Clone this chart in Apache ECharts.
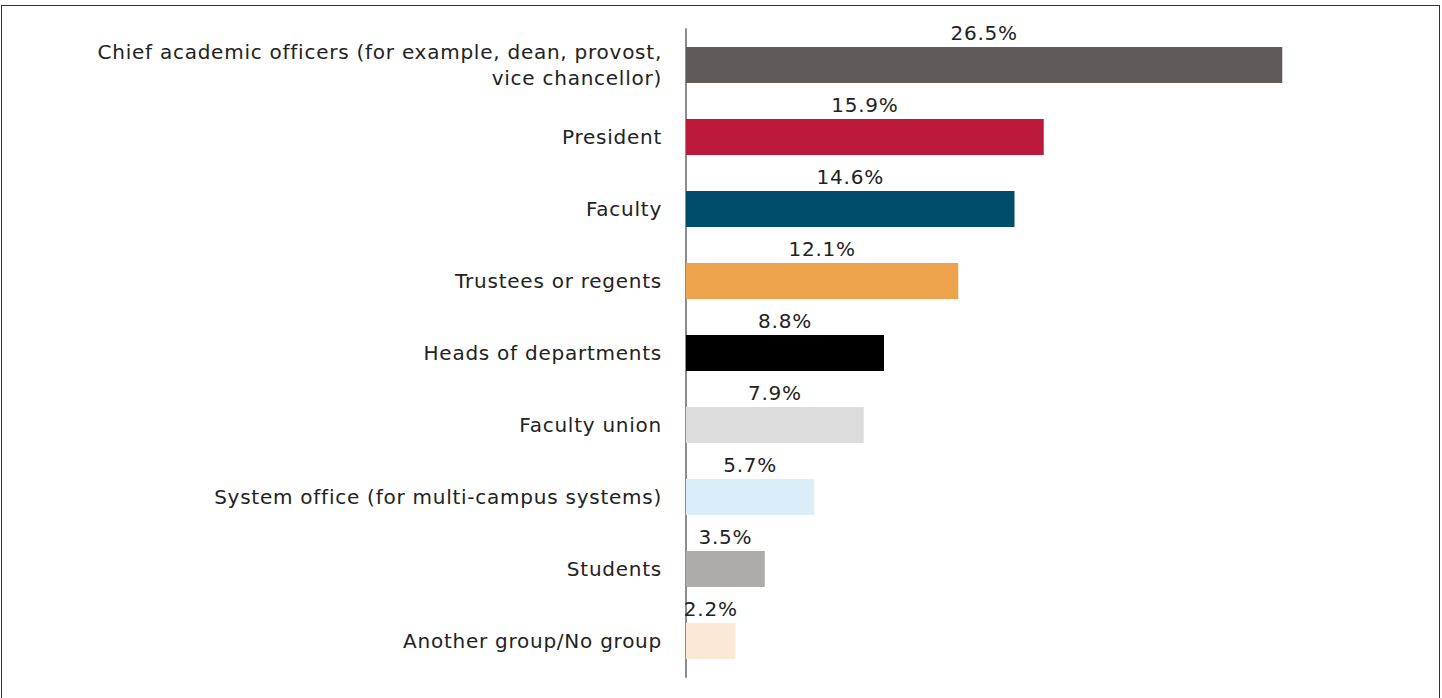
<!DOCTYPE html>
<html>
<head>
<meta charset="utf-8">
<script src="https://cdn.jsdelivr.net/npm/echarts@6/dist/echarts.min.js"></script>
<style>
  html, body { margin: 0; padding: 0; background: #fff; }
  #frame { position: absolute; left: 1px; top: 5px; width: 1439px; height: 700px;
           border: 1.5px solid #333; box-sizing: border-box; border-bottom: none; }
  #chart { position: absolute; left: 0; top: 0; width: 1442px; height: 698px; }
  /* light tracking on all chart text */
  #chart svg text { letter-spacing: 0.75px; }
</style>
</head>
<body>
<div id="frame"></div>
<div id="chart"></div>
<script>
// Share of responses by group
const categories = [
  'Chief academic officers (for example, dean, provost,\nvice chancellor)',
  'President',
  'Faculty',
  'Trustees or regents',
  'Heads of departments',
  'Faculty union',
  'System office (for multi-campus systems)',
  'Students',
  'Another group/No group'
];
const values = [26.5, 15.9, 14.6, 12.1, 8.8, 7.9, 5.7, 3.5, 2.2];
const barColors = ['#5f5b59', '#bd193c', '#004c6b', '#eca34c', '#000000',
                   '#dcdcdc', '#d9eef8', '#adacaa', '#fbe9d6'];

const FONT = 'DejaVu Sans';
const chart = echarts.init(document.getElementById('chart'), null, { renderer: 'svg' });
chart.setOption({
  animation: false,
  grid: { left: 686, top: 29, width: 675, height: 648, containLabel: false },
  xAxis: {
    type: 'value', min: 0, max: 30,
    show: false, splitLine: { show: false }
  },
  yAxis: {
    type: 'category', inverse: true, data: categories,
    axisLine: { show: true, lineStyle: { color: '#8c8c8c', width: 2 } },
    axisTick: { show: false },
    axisLabel: {
      margin: 24, color: '#222', fontFamily: FONT, fontSize: 20,
      align: 'right', lineHeight: 26, padding: [7, 0, 0, 0]
    }
  },
  series: [{
    type: 'bar',
    barWidth: 36,
    data: values.map((v, i) => ({ value: v, itemStyle: { color: barColors[i] } })),
    label: {
      show: true, position: 'top', distance: 4,
      color: '#222', fontFamily: FONT, fontSize: 20,
      formatter: p => p.value.toFixed(1) + '%'
    }
  }]
});
</script>
</body>
</html>
